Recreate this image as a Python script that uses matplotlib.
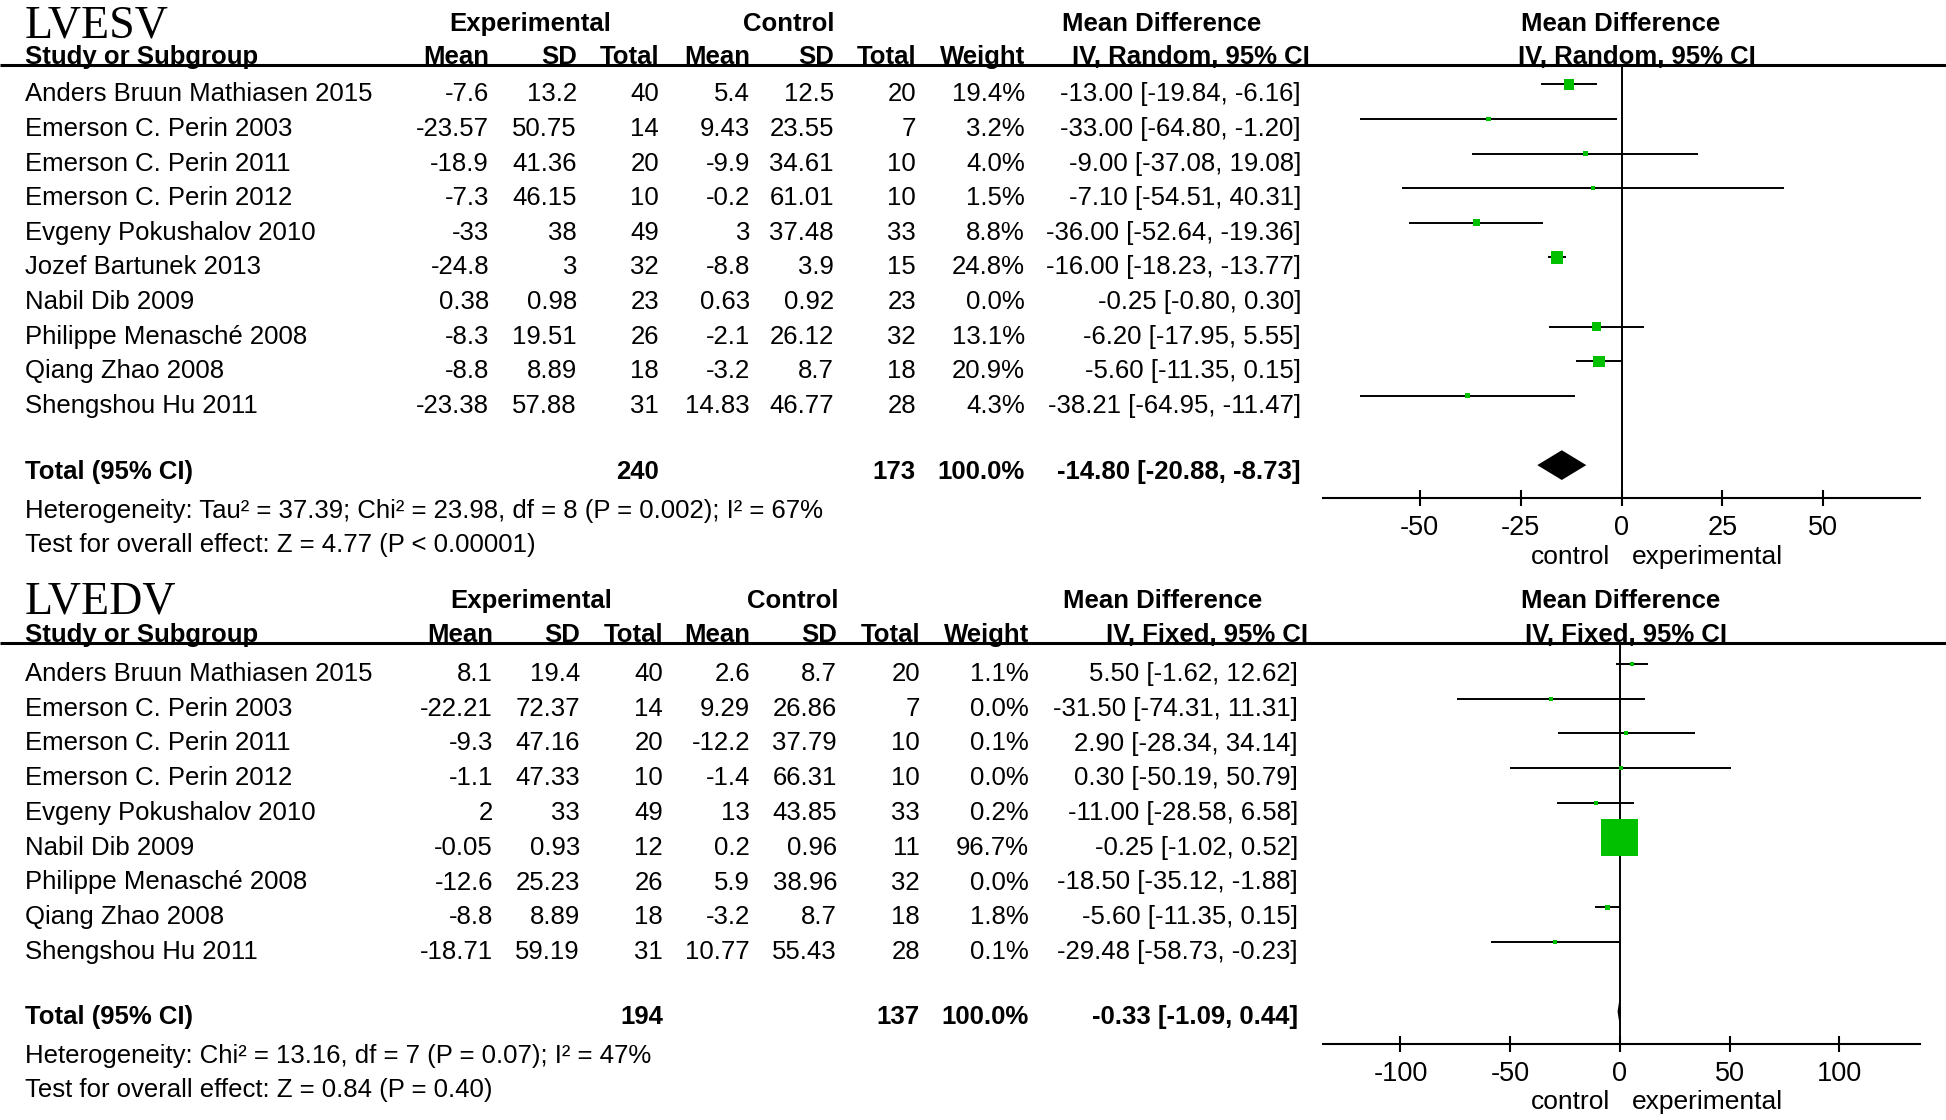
import matplotlib
matplotlib.use("Agg")
import matplotlib.pyplot as plt
import numpy as np

plt.rcParams['axes.unicode_minus'] = False
SANS = ['Liberation Sans', 'DejaVu Sans']
SERIF = ['Liberation Serif', 'DejaVu Serif']

# ---------------- data: LVESV (random effects) ----------------
esv_studies = ["Anders Bruun Mathiasen 2015", "Emerson C. Perin 2003", "Emerson C. Perin 2011",
               "Emerson C. Perin 2012", "Evgeny Pokushalov 2010", "Jozef Bartunek 2013",
               "Nabil Dib 2009", "Philippe Menasché 2008", "Qiang Zhao 2008", "Shengshou Hu 2011"]
esv_exp_mean = [-7.6, -23.57, -18.9, -7.3, -33, -24.8, 0.38, -8.3, -8.8, -23.38]
esv_exp_sd = [13.2, 50.75, 41.36, 46.15, 38, 3, 0.98, 19.51, 8.89, 57.88]
esv_exp_n = [40, 14, 20, 10, 49, 32, 23, 26, 18, 31]
esv_ctl_mean = [5.4, 9.43, -9.9, -0.2, 3, -8.8, 0.63, -2.1, -3.2, 14.83]
esv_ctl_sd = [12.5, 23.55, 34.61, 61.01, 37.48, 3.9, 0.92, 26.12, 8.7, 46.77]
esv_ctl_n = [20, 7, 10, 10, 33, 15, 23, 32, 18, 28]
esv_weight = [19.4, 3.2, 4.0, 1.5, 8.8, 24.8, 0.0, 13.1, 20.9, 4.3]
esv_md = [-13.00, -33.00, -9.00, -7.10, -36.00, -16.00, -0.25, -6.20, -5.60, -38.21]
esv_lo = [-19.84, -64.80, -37.08, -54.51, -52.64, -18.23, -0.80, -17.95, -11.35, -64.95]
esv_hi = [-6.16, -1.20, 19.08, 40.31, -19.36, -13.77, 0.30, 5.55, 0.15, -11.47]
esv_plotted = [True, True, True, True, True, True, False, True, True, True]
esv_total_n = [240, 173]
esv_total = [-14.80, -20.88, -8.73]
esv_het = "Heterogeneity: Tau² = 37.39; Chi² = 23.98, df = 8 (P = 0.002); I² = 67%"
esv_test = "Test for overall effect: Z = 4.77 (P < 0.00001)"
esv_ticks = [-50, -25, 0, 25, 50]

# ---------------- data: LVEDV (fixed effects) ----------------
edv_studies = ["Anders Bruun Mathiasen 2015", "Emerson C. Perin 2003", "Emerson C. Perin 2011",
               "Emerson C. Perin 2012", "Evgeny Pokushalov 2010", "Nabil Dib 2009",
               "Philippe Menasché 2008", "Qiang Zhao 2008", "Shengshou Hu 2011"]
edv_exp_mean = [8.1, -22.21, -9.3, -1.1, 2, -0.05, -12.6, -8.8, -18.71]
edv_exp_sd = [19.4, 72.37, 47.16, 47.33, 33, 0.93, 25.23, 8.89, 59.19]
edv_exp_n = [40, 14, 20, 10, 49, 12, 26, 18, 31]
edv_ctl_mean = [2.6, 9.29, -12.2, -1.4, 13, 0.2, 5.9, -3.2, 10.77]
edv_ctl_sd = [8.7, 26.86, 37.79, 66.31, 43.85, 0.96, 38.96, 8.7, 55.43]
edv_ctl_n = [20, 7, 10, 10, 33, 11, 32, 18, 28]
edv_weight = [1.1, 0.0, 0.1, 0.0, 0.2, 96.7, 0.0, 1.8, 0.1]
edv_md = [5.50, -31.50, 2.90, 0.30, -11.00, -0.25, -18.50, -5.60, -29.48]
edv_lo = [-1.62, -74.31, -28.34, -50.19, -28.58, -1.02, -35.12, -11.35, -58.73]
edv_hi = [12.62, 11.31, 34.14, 50.79, 6.58, 0.52, -1.88, 0.15, -0.23]
edv_plotted = [True, True, True, True, True, True, False, True, True]
edv_total_n = [194, 137]
edv_total = [-0.33, -1.09, 0.44]
edv_het = "Heterogeneity: Chi² = 13.16, df = 7 (P = 0.07); I² = 47%"
edv_test = "Test for overall effect: Z = 0.84 (P = 0.40)"
edv_ticks = [-100, -50, 0, 50, 100]

W, H = 1946, 1120
fig = plt.figure(figsize=(W / 100, H / 100), dpi=100)
bg = fig.add_axes([0, 0, 1, 1])
bg.set_xlim(0, W)
bg.set_ylim(H, 0)
bg.axis('off')

FS = 18.5
GREEN = '#00c000'


def rect(x0, y0, x1, y1):
    return [x0 / W, 1 - y1 / H, (x1 - x0) / W, (y1 - y0) / H]


def fmt(v):
    return f"{v:g}"


def panel(name, method, studies, em, es, en, cm, cs, cn, wt, md, lo, hi, plotted,
          tot_n, tot, het, test, ticks, xlim, L):
    # title & headers
    bg.text(25, L['title'], name, family=SERIF, fontsize=33, va='baseline', ha='left')
    h1 = L['h1']
    for txt, xc in [("Experimental", L['c_exp']), ("Control", L['c_ctl']),
                    ("Mean Difference", L['c_md']), ("Mean Difference", 1621)]:
        bg.text(xc, h1, txt, family=SANS, fontsize=FS, fontweight='bold', ha='center', va='center')
    h2 = L['h2']
    bg.text(25, h2, "Study or Subgroup", family=SANS, fontsize=FS, fontweight='bold', va='baseline')
    cols = L['cols']
    for txt, xr in zip(["Mean", "SD", "Total", "Mean", "SD", "Total", "Weight"], cols):
        bg.text(xr, h2, txt, family=SANS, fontsize=FS, fontweight='bold', ha='right', va='baseline')
    hdr = f"IV, {method}, 95% CI"
    bg.text(L['c_iv'], h2, hdr, family=SANS, fontsize=FS, fontweight='bold', ha='center', va='baseline')
    bg.text(L['c_iv2'], h2, hdr, family=SANS, fontsize=FS, fontweight='bold', ha='center', va='baseline')
    bg.plot([0, W], [L['line'], L['line']], color='black', lw=2.2, solid_capstyle='butt', zorder=5)

    # rows
    for i, s in enumerate(studies):
        y = L['row0'] + L['dy'] * i
        bg.text(25, y, s, family=SANS, fontsize=FS, va='baseline')
        vals = [fmt(em[i]), fmt(es[i]), str(en[i]), fmt(cm[i]), fmt(cs[i]), str(cn[i]), f"{wt[i]:.1f}%"]
        for v, xr in zip(vals, cols):
            bg.text(xr, y, v, family=SANS, fontsize=FS, ha='right', va='baseline')
        bg.text(L['ci_r'], y, f"{md[i]:.2f} [{lo[i]:.2f}, {hi[i]:.2f}]", family=SANS,
                fontsize=FS, ha='right', va='baseline')
    yt = L['tot']
    bold = dict(family=SANS, fontsize=FS, fontweight='bold', va='baseline')
    bg.text(25, yt, "Total (95% CI)", **bold)
    bg.text(cols[2], yt, str(tot_n[0]), ha='right', **bold)
    bg.text(cols[5], yt, str(tot_n[1]), ha='right', **bold)
    bg.text(cols[6], yt, "100.0%", ha='right', **bold)
    bg.text(L['ci_r'], yt, f"{tot[0]:.2f} [{tot[1]:.2f}, {tot[2]:.2f}]", ha='right', **bold)
    bg.text(25, L['het'], het, family=SANS, fontsize=FS, va='baseline')
    bg.text(25, L['het'] + 34, test, family=SANS, fontsize=FS, va='baseline')

    # forest
    ax = fig.add_axes(rect(1323, L['line'], 1920, L['axis']))
    ax.patch.set_alpha(0)
    n = len(studies)
    rows = np.arange(n)
    total_row = n + 1
    ax.set_xlim(*xlim)
    ax.set_ylim(L['ybot'], L['ytop'])
    for sp in ['left', 'right', 'top']:
        ax.spines[sp].set_visible(False)
    ax.spines['bottom'].set_linewidth(1.5)
    ax.set_yticks([])
    ax.set_xticks(ticks)
    ax.tick_params(axis='x', direction='inout', length=11.5, width=1.5, pad=6.5,
                   labelsize=19.5)
    for lab in ax.get_xticklabels():
        lab.set_family(SANS)
    ax.axvline(0, color='black', lw=1.4, zorder=2)
    p = np.array(plotted)
    ax.hlines(rows[p], np.array(lo)[p], np.array(hi)[p], color='black', lw=1.4, zorder=3)
    side_px = np.maximum(4.0, L['k'] * np.sqrt(np.array(wt)))
    side_pt = side_px * 72 / 100
    ax.scatter(np.array(md)[p], rows[p], s=side_pt[p] ** 2, marker='s', color=GREEN,
               linewidths=0, zorder=4)
    hh = L['dh']
    ax.fill([tot[1], tot[0], tot[2], tot[0]],
            [total_row, total_row - hh, total_row, total_row + hh],
            color='black', lw=0, zorder=4)
    bg.text(1610, L['lab'], "control", family=SANS, fontsize=19, ha='right', va='center')
    bg.text(1632, L['lab'], "experimental", family=SANS, fontsize=19, ha='left', va='center')


L_top = dict(title=37, h1=24, h2=64, line=65, cols=[489, 577, 659, 750, 834, 916, 1025],
             c_exp=530, c_ctl=789, c_md=1162, c_iv=1191, c_iv2=1637, ci_r=1301,
             row0=101.4, dy=34.6, tot=479, het=518, axis=498,
             ytop=-0.56, ybot=11.95, k=2.45, dh=0.43, lab=557)
L_bot = dict(title=613, h1=601, h2=642, line=643, cols=[493, 580, 663, 750, 837, 920, 1029],
             c_exp=531, c_ctl=793, c_md=1163, c_iv=1207, c_iv2=1626, ci_r=1298,
             row0=681, dy=34.75, tot=1024, het=1063, axis=1044,
             ytop=-0.604, ybot=10.935, k=3.76, dh=0.32, lab=1102)

panel("LVESV", "Random", esv_studies, esv_exp_mean, esv_exp_sd, esv_exp_n, esv_ctl_mean,
      esv_ctl_sd, esv_ctl_n, esv_weight, esv_md, esv_lo, esv_hi, esv_plotted,
      esv_total_n, esv_total, esv_het, esv_test, esv_ticks, (-74, 74), L_top)
panel("LVEDV", "Fixed", edv_studies, edv_exp_mean, edv_exp_sd, edv_exp_n, edv_ctl_mean,
      edv_ctl_sd, edv_ctl_n, edv_weight, edv_md, edv_lo, edv_hi, edv_plotted,
      edv_total_n, edv_total, edv_het, edv_test, edv_ticks, (-135.3, 136.7), L_bot)

fig.savefig("out.png", dpi=100)
